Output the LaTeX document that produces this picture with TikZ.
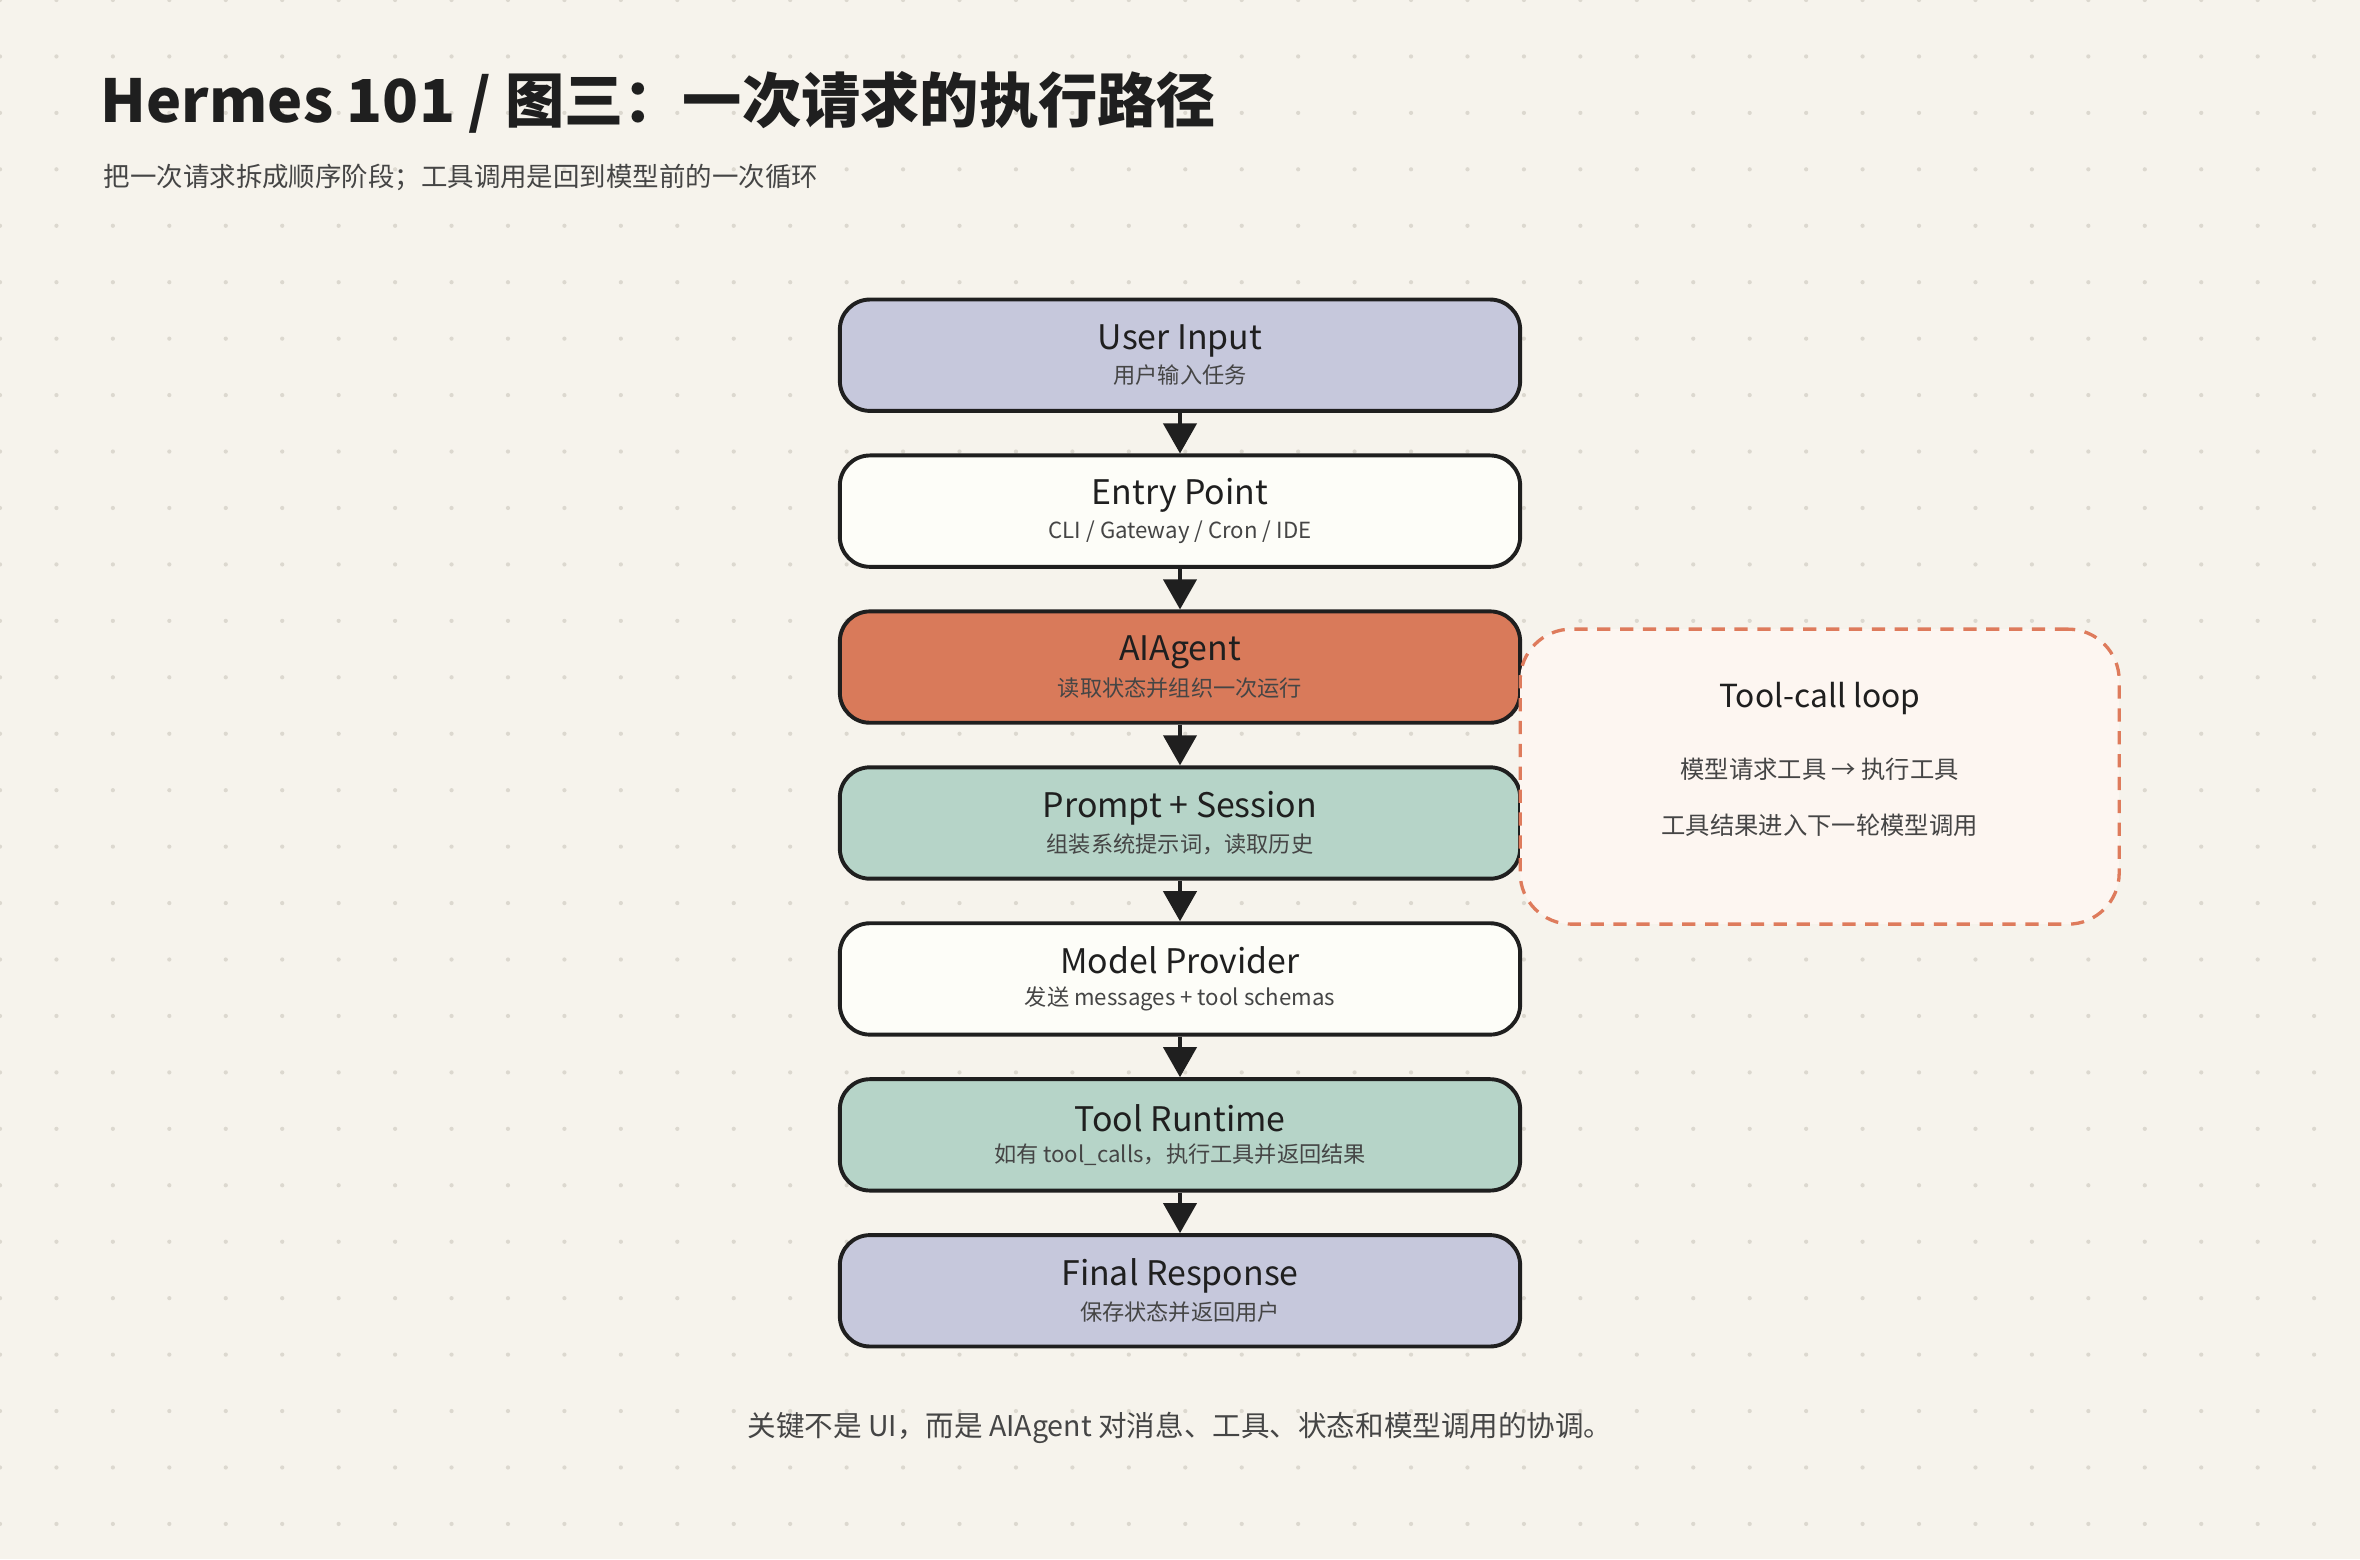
\documentclass[tikz,border=0pt]{standalone}
\usepackage{fontspec}
\setmainfont{Noto Sans CJK SC}
\usetikzlibrary{positioning}
\usetikzlibrary{arrows.meta}
\definecolor{paper}{HTML}{F6F3EC}
\definecolor{dotgray}{HTML}{DCD8CF}
\definecolor{ink}{HTML}{1F1F1F}
\definecolor{subink}{HTML}{454545}
\definecolor{lavender}{HTML}{C6C8DC}
\definecolor{cream}{HTML}{FDFDF8}
\definecolor{terracotta}{HTML}{D97A5A}
\definecolor{sage}{HTML}{B6D4C8}
\definecolor{loopfill}{HTML}{FDF6F1}
\definecolor{loopline}{HTML}{DE7B5C}

\begin{document}
\begin{tikzpicture}[x=0.25mm, y=-0.25mm,
    node distance=6.75mm,
    stage/.style={draw=ink, line width=0.65mm, rounded corners=5mm, minimum width=113mm,
                  minimum height=18.5mm, align=center, text=ink, inner sep=0pt},
    flow/.style={draw=ink, line width=0.65mm, -{Triangle[length=5mm,width=5.5mm]}}]
  % background and dot grid
  \fill[paper] (0,0) rectangle (1568,1036);
  \useasboundingbox (0,0) rectangle (1568,1036);
  \foreach \gx in {0,37.5,...,1568}
    \foreach \gy in {0,37.5,...,1036}
      \fill[dotgray] (\gx,\gy) circle (0.35mm);

  % heading
  \node[anchor=west, text=ink, font=\fontsize{28}{32}\selectfont\bfseries] (title) at (62,68)
    {Hermes 101 / 图三：一次请求的执行路径};
  \node[anchor=west, text=subink, font=\fontsize{12.5}{15}\selectfont] (subtitle) at (64,118)
    {把一次请求拆成顺序阶段；工具调用是回到模型前的一次循环};

  % stages
  \node[stage, fill=lavender] (input) at (784,236)
    {{\fontsize{16}{19}\selectfont User Input}\\[1mm]{\fontsize{10.5}{12}\selectfont\color{subink}用户输入任务}};
  \node[stage, fill=cream, below=of input] (entry)
    {{\fontsize{16}{19}\selectfont Entry Point}\\[1mm]{\fontsize{10.5}{12}\selectfont\color{subink}CLI / Gateway / Cron / IDE}};
  \node[stage, fill=terracotta, below=of entry] (agent)
    {{\fontsize{16}{19}\selectfont AIAgent}\\[1mm]{\fontsize{10.5}{12}\selectfont\color{subink}读取状态并组织一次运行}};
  \node[stage, fill=sage, below=of agent] (prompt)
    {{\fontsize{16}{19}\selectfont Prompt + Session}\\[1mm]{\fontsize{10.5}{12}\selectfont\color{subink}组装系统提示词，读取历史}};
  \node[stage, fill=cream, below=of prompt] (provider)
    {{\fontsize{16}{19}\selectfont Model Provider}\\[1mm]{\fontsize{10.5}{12}\selectfont\color{subink}发送 messages + tool schemas}};
  \node[stage, fill=sage, below=of provider] (runtime)
    {{\fontsize{16}{19}\selectfont Tool Runtime}\\[1mm]{\fontsize{10.5}{12}\selectfont\color{subink}如有 tool\_calls，执行工具并返回结果}};
  \node[stage, fill=lavender, below=of runtime] (final)
    {{\fontsize{16}{19}\selectfont Final Response}\\[1mm]{\fontsize{10.5}{12}\selectfont\color{subink}保存状态并返回用户}};

  \foreach \a/\b in {input/entry, entry/agent, agent/prompt, prompt/provider, provider/runtime, runtime/final}
    \draw[flow] (\a) -- (\b);

  % tool-call loop note
  \node[draw=loopline, fill=loopfill, line width=0.55mm, dash pattern=on 2.2mm off 1.6mm,
        rounded corners=8.5mm, minimum width=99.5mm, minimum height=49mm] (loop) at (1209,516) {};
  \node[text=ink, font=\fontsize{15}{18}\selectfont] (looptitle) at (1209,464) {Tool-call loop};
  \node[text=subink, font=\fontsize{11.5}{14}\selectfont] (loopline1) at (1209,511) {模型请求工具 → 执行工具};
  \node[text=subink, font=\fontsize{11.5}{14}\selectfont] (loopline2) at (1209,548) {工具结果进入下一轮模型调用};

  % footer
  \node[text=subink, font=\fontsize{13.5}{16}\selectfont] (footer) at (784,949)
    {关键不是 UI，而是 AIAgent 对消息、工具、状态和模型调用的协调。};
\end{tikzpicture}
\end{document}
